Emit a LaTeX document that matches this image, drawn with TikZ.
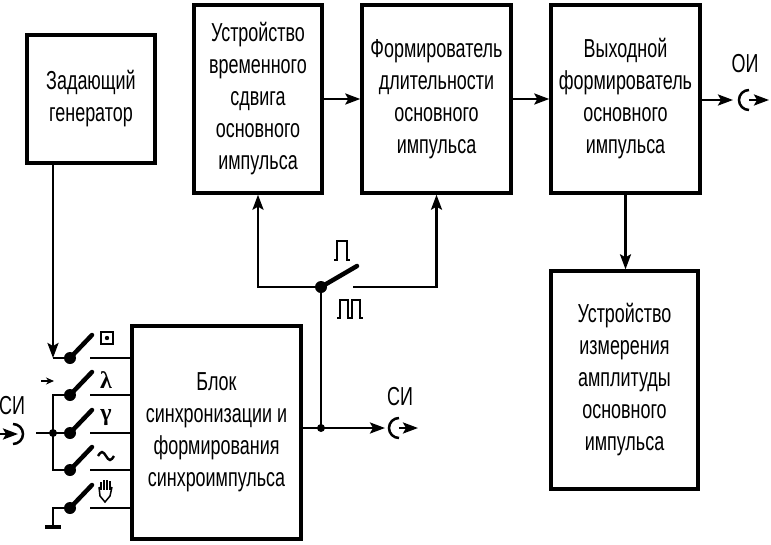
\documentclass[tikz,border=0pt]{standalone}
\usepackage{fontspec}
\setmainfont{Liberation Sans}[FakeStretch=0.69]
\newfontfamily\symfont{Liberation Serif}
\usetikzlibrary{arrows.meta}

\tikzstyle{block}=[shape=rectangle,draw,line width=3.4pt,align=center,inner sep=0pt,font=\fontsize{26}{32}\selectfont]
\tikzstyle{lbl}=[inner sep=0pt,font=\fontsize{26}{26}\selectfont]
\tikzstyle{sym}=[inner sep=0pt,font=\symfont\bfseries\fontsize{24}{24}\selectfont]
\tikzstyle{wire}=[line width=2.5pt]
\tikzstyle{lever}=[line width=4.5pt,line cap=round]
\tikzstyle{pin}=[circle,fill,inner sep=0pt,minimum size=12pt]
\tikzstyle{junct}=[circle,fill,inner sep=0pt,minimum size=8pt]

\begin{document}
\begin{tikzpicture}[x=1pt,y=-1pt,>={Stealth[length=15pt,width=11pt,inset=3pt]}]
	\useasboundingbox (0,0) rectangle (771,544);
	\node[block,minimum width=128pt,minimum height=128pt] (gen) at (91,99) {Задающий\\генератор};
	\node[block,minimum width=128pt,minimum height=188pt] (shift) at (258,99) {Устройство\\временного\\сдвига\\основного\\импульса};
	\node[block,minimum width=149pt,minimum height=188pt] (dur) at (436.5,99) {Формирователь\\длительности\\основного\\импульса};
	\node[block,minimum width=149pt,minimum height=188pt] (outf) at (625.5,99) {Выходной\\формирователь\\основного\\импульса};
	\node[block,minimum width=147pt,minimum height=218pt] (meas) at (624.5,380) {Устройство\\измерения\\амплитуды\\основного\\импульса};
	\node[block,minimum width=169pt,minimum height=213pt] (sync) at (216.5,432.5) {Блок\\синхронизации и\\формирования\\синхроимпульса};

	\draw[wire,->] (shift) -- (dur);
	\draw[wire,->] (dur) -- (outf);
	\draw[wire,->] (outf.south) -- (outf.south |- meas.north);

	\foreach \n/\y in {1/358, 2/395, 3/433, 4/470, 5/508}
	{
	\node[pin] (p\n) at (70,\y) {};
	\coordinate (c\n) at (90,\y);
	\draw[lever] (p\n.center) -- ++(22,-23);
	\draw[wire] (c\n) -- (c\n -| sync.west);
	}
	\foreach \n/\y/\s in {2/380/λ, 3/418/γ}
	\node[sym] (s\n) at (106,\y) {\s};
	\draw[line width=2.4pt] (98,456) sin (102,452) cos (106,456) sin (110,460) cos (114,456);
	\node[draw,line width=1.5pt,minimum size=12pt,inner sep=0pt] (s1) at (107,338) {};
	\fill (s1.center) circle (2.2pt);
	\draw[line width=1.5pt] (101,482) -- (101,490) (104,480) -- (104,490) (107,480) -- (107,490) (110,481) -- (110,490);
	\draw[line width=1.5pt] (99,487) -- (100,496) -- (105,502) -- (110,496) -- (112,487);

	\coordinate (g) at (53,358);
	\draw[wire,->] (gen.south -| g) -- (g);
	\draw[wire] (g) -- (p1.center);
	\draw[wire,-{Stealth[length=8pt,width=7pt]}] (41,381) -- (54,381);

	\coordinate (bus) at (53,433);
	\coordinate (sin) at (36,433);
	\draw[wire] (p2.center) -| (bus) |- (p4.center);
	\draw[wire] (sin) -- (p3.center);
	\node[junct] (jb) at (bus) {};
	\node[lbl] (sil) at (12,406) {СИ};
	\draw[wire] (13,424) arc[start angle=-90,end angle=90,radius=10];
	\draw[wire,->] (0,434) -- (18,434);

	\coordinate (gnd) at (53,527);
	\draw[wire] (p5.center) -| (gnd);
	\draw[line width=4.5pt] (45,527) -- (61,527);

	\coordinate (jo) at (321,428);
	\coordinate (sout) at (385,428);
	\draw[wire] (sync.east |- jo) -- (jo);
	\draw[wire,->] (jo) -- (sout);
	\node[junct] (jj) at (jo) {};
	\node[lbl] (sol) at (400,397) {СИ};
	\draw[wire] (399,418) arc[start angle=-90,end angle=-270,radius=10];
	\draw[wire,->] (399,428) -- (418,428);

	\node[pin] (m) at (321,287) {};
	\coordinate (mc) at (353,287);
	\draw[wire] (jo) -- (m.center);
	\draw[lever] (m.center) -- ++(36,-21);
	\draw[wire,->] (m.center) -| (shift.south);
	\draw[wire,->] (mc) -| (dur.south);
	\draw[line width=2pt] (334,260) -- (337,260) -- (337,241) -- (347,241) -- (347,260) -- (350,260);
	\draw[line width=2pt] (337,318) -- (340,318) -- (340,300) -- (348,300) -- (348,318) -- (352,318) -- (352,300) -- (360,300) -- (360,318) -- (363,318);

	\coordinate (oout) at (733,100);
	\draw[wire,->] (outf.east |- oout) -- (oout);
	\node[lbl] (oil) at (745,64) {ОИ};
	\draw[wire] (749,90) arc[start angle=-90,end angle=-270,radius=10];
	\draw[wire,->] (749,100) -- (769,100);
\end{tikzpicture}
\end{document}
